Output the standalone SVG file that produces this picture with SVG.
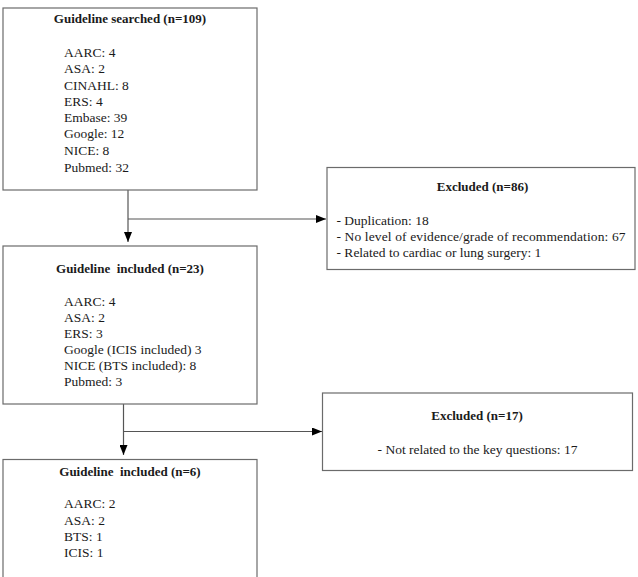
<svg xmlns="http://www.w3.org/2000/svg" width="638" height="577" viewBox="0 0 638 577">
<defs>
<marker id="ah" viewBox="0 0 10 8" refX="10" refY="4" markerWidth="10" markerHeight="8" markerUnits="userSpaceOnUse" orient="auto">
<path d="M0,0 L10,4 L0,8 Z" fill="#000"/>
</marker>
<style>
.box{fill:#fff;stroke:#6b6b6b;stroke-width:1.2}
.t{font-family:"Liberation Serif","Times New Roman",serif;font-size:13.5px;fill:#1a1a1a}
.b{font-weight:bold;text-anchor:middle;font-size:13px}
.c{text-anchor:middle}
.ln{fill:none;stroke:#555;stroke-width:1.2}
</style>
</defs>
<rect width="638" height="577" fill="#fff"/>
<g id="connectors">
<path class="ln" d="M128,190 V242" marker-end="url(#ah)"/>
<path class="ln" d="M128,219 H326" marker-end="url(#ah)"/>
<path class="ln" d="M123.5,404 V455" marker-end="url(#ah)"/>
<path class="ln" d="M123.5,431.5 H322" marker-end="url(#ah)"/>
</g>
<g id="searched">
<rect class="box" x="3" y="8" width="254" height="182"/>
<text class="t b" x="130" y="23">Guideline searched (n=109)</text>
<text class="t" x="64" y="57">AARC: 4</text>
<text class="t" x="64" y="73">ASA: 2</text>
<text class="t" x="64" y="90">CINAHL: 8</text>
<text class="t" x="64" y="106">ERS: 4</text>
<text class="t" x="64" y="122">Embase: 39</text>
<text class="t" x="64" y="138">Google: 12</text>
<text class="t" x="64" y="155">NICE: 8</text>
<text class="t" x="64" y="172">Pubmed: 32</text>
</g>
<g id="excluded1">
<rect class="box" x="327" y="167.5" width="308" height="102"/>
<text class="t b" x="482.5" y="190.5">Excluded (n=86)</text>
<text class="t" x="336.5" y="225">- Duplication: 18</text>
<text class="t" x="336.5" y="241" textLength="289" lengthAdjust="spacing">- No level of evidence/grade of recommendation: 67</text>
<text class="t" x="336.5" y="257">- Related to cardiac or lung surgery: 1</text>
</g>
<g id="included23">
<rect class="box" x="3" y="246" width="254" height="158"/>
<text class="t b" x="130" y="273" xml:space="preserve">Guideline  included (n=23)</text>
<text class="t" x="64" y="305.5">AARC: 4</text>
<text class="t" x="64" y="321.5">ASA: 2</text>
<text class="t" x="64" y="338">ERS: 3</text>
<text class="t" x="64" y="354">Google (ICIS included) 3</text>
<text class="t" x="64" y="370">NICE (BTS included): 8</text>
<text class="t" x="64" y="386">Pubmed: 3</text>
</g>
<g id="excluded2">
<rect class="box" x="322.5" y="393" width="310" height="77.5"/>
<text class="t b" x="477" y="420">Excluded (n=17)</text>
<text class="t c" x="477.5" y="453.5">- Not related to the key questions: 17</text>
</g>
<g id="included6">
<rect class="box" x="3" y="459.5" width="254" height="125"/>
<text class="t b" x="130" y="476" xml:space="preserve">Guideline  included (n=6)</text>
<text class="t" x="64" y="508">AARC: 2</text>
<text class="t" x="64" y="524.5">ASA: 2</text>
<text class="t" x="64" y="541">BTS: 1</text>
<text class="t" x="64" y="557">ICIS: 1</text>
</g>
</svg>
